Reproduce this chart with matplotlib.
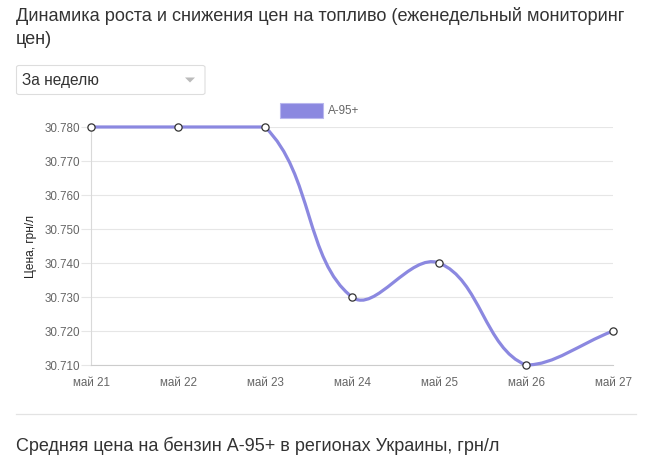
import numpy as np
import matplotlib
matplotlib.use("Agg")
import matplotlib.pyplot as plt
from matplotlib.path import Path
from matplotlib.patches import PathPatch, Rectangle, FancyBboxPatch, Polygon
from matplotlib.lines import Line2D

# ---- data ----
categories = ["май 21", "май 22", "май 23", "май 24", "май 25", "май 26", "май 27"]
prices = [30.78, 30.78, 30.78, 30.73, 30.74, 30.71, 30.72]
series_name = "A-95+"
y_ticks = [30.71, 30.72, 30.73, 30.74, 30.75, 30.76, 30.77, 30.78]
title = "Динамика роста и снижения цен на топливо (еженедельный мониторинг\nцен)"
dropdown_text = "За неделю"
y_label = "Цена, грн/л"
bottom_text = "Средняя цена на бензин А-95+ в регионах Украины, грн/л"

W, H = 648, 473
plt.rcParams['font.family'] = ['Liberation Sans', 'DejaVu Sans']
fig = plt.figure(figsize=(W / 100, H / 100), dpi=100)

def fx(x):
    return x / W

def fy(y):
    return 1 - y / H

LINE = '#8b88e0'
GRID = '#e6e6e6'
TICKC = '#666666'

left, right, top, bottom = 91, 613, 127, 365
ax = fig.add_axes([fx(left), fy(bottom), (right - left) / W, (bottom - top) / H])
xs = np.arange(len(categories))
ax.set_xlim(xs[0], xs[-1])
ax.set_ylim(y_ticks[0], y_ticks[-1])
ax.set_yticks(y_ticks)
ax.set_yticklabels([f"{v:.3f}" for v in y_ticks])
ax.set_xticks(xs)
ax.set_xticklabels(categories)
ax.grid(axis='y', color=GRID, linewidth=0.8)
ax.set_axisbelow(True)
for s in ['top', 'right']:
    ax.spines[s].set_visible(False)
ax.spines['left'].set_color('#d9d9d9')
ax.spines['bottom'].set_color('#cccccc')
ax.spines['left'].set_linewidth(0.8)
ax.spines['bottom'].set_linewidth(0.8)
ax.tick_params(axis='y', length=7.2, width=0.8, color=GRID, pad=1, labelsize=8.4, labelcolor=TICKC)
ax.tick_params(axis='x', length=0, pad=8.5, labelsize=8.4, labelcolor=TICKC)
ax.set_ylabel(y_label, fontsize=8.6, color='#222222', labelpad=5)

# ---- Chart.js style spline (tension 0.4, capped to chart area) ----
pts = ax.transData.transform(np.column_stack([xs, prices]))
x0p, y0p = ax.transData.transform((xs[0], y_ticks[0]))
x1p, y1p = ax.transData.transform((xs[-1], y_ticks[-1]))
t = 0.4
n = len(pts)
cprev = np.zeros_like(pts)
cnext = np.zeros_like(pts)
for i in range(n):
    p0 = pts[i - 1] if i > 0 else pts[i]
    p1 = pts[i]
    p2 = pts[i + 1] if i < n - 1 else pts[i]
    d01 = np.hypot(*(p1 - p0))
    d12 = np.hypot(*(p2 - p1))
    tot = d01 + d12
    s01 = d01 / tot if tot else 0
    s12 = d12 / tot if tot else 0
    fa, fb = t * s01, t * s12
    cprev[i] = p1 - fa * (p2 - p0)
    cnext[i] = p1 + fb * (p2 - p0)
for c in (cprev, cnext):
    c[:, 0] = np.clip(c[:, 0], x0p, x1p)
    c[:, 1] = np.clip(c[:, 1], y0p, y1p)

verts = [pts[0]]
codes = [Path.MOVETO]
for i in range(n - 1):
    verts += [cnext[i], cprev[i + 1], pts[i + 1]]
    codes += [Path.CURVE4] * 3
inv = ax.transData.inverted()
verts_d = inv.transform(np.array(verts))
patch = PathPatch(Path(verts_d, codes), facecolor='none', edgecolor=LINE,
                  linewidth=2.3, transform=ax.transData, clip_on=False, zorder=3)
ax.add_patch(patch)
ax.plot(xs, prices, linestyle='none', marker='o', markersize=5.2,
        markerfacecolor='white', markeredgecolor='#333333', markeredgewidth=0.9,
        clip_on=False, zorder=4)

# ---- legend ----
fig.add_artist(Rectangle((fx(280), fy(118)), 43 / W, 15 / H, transform=fig.transFigure,
                         facecolor=LINE, edgecolor='#b9b7ee', linewidth=0.8))
fig.text(fx(328), fy(110.5), series_name, fontsize=8.4, color=TICKC, va='center', ha='left')

# ---- title ----
fig.text(fx(16), fy(7), title, fontsize=13.1, color='#333333', va='top', ha='left',
         linespacing=1.45)

# ---- dropdown ----
fig.add_artist(FancyBboxPatch((fx(16.5), fy(94.5)), 188.5 / W, 29 / H,
                              boxstyle='round,pad=0,rounding_size=0.004',
                              transform=fig.transFigure, facecolor='white',
                              edgecolor='#dddddd', linewidth=0.8))
fig.text(fx(22), fy(80), dropdown_text, fontsize=11.2, color='#333333', va='center', ha='left')
fig.add_artist(Polygon([[fx(185), fy(77.5)], [fx(195), fy(77.5)], [fx(190), fy(82.5)]],
                       closed=True, transform=fig.transFigure, facecolor='#bbbbbb',
                       edgecolor='none'))

# ---- separator + bottom text ----
fig.add_artist(Line2D([fx(16), fx(636)], [fy(413.5), fy(413.5)], transform=fig.transFigure,
                      color='#e3e3e3', linewidth=0.9))
fig.text(fx(16), fy(446), bottom_text, fontsize=13, color='#333333', va='center', ha='left')

fig.savefig("out.png", dpi=100)
